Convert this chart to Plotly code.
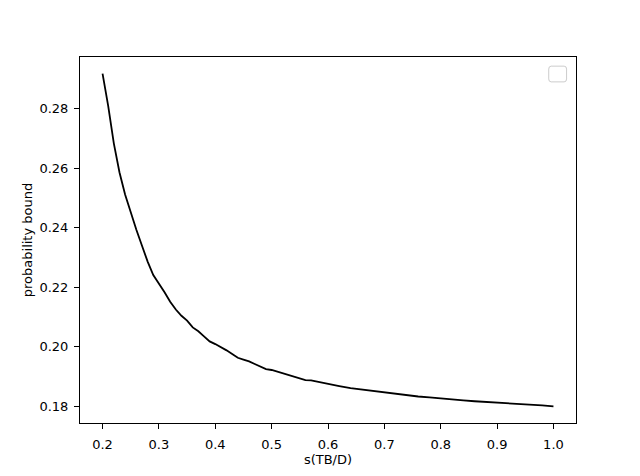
import plotly.graph_objects as go

# s(TB/D) values and the probability bound
s_vals = [0.20, 0.21, 0.22, 0.23, 0.24, 0.25, 0.26, 0.27, 0.28, 0.29,
          0.30, 0.31, 0.32, 0.33, 0.34, 0.35, 0.36, 0.37, 0.38, 0.39,
          0.40, 0.41, 0.42, 0.43, 0.44, 0.45, 0.46, 0.47, 0.48, 0.49,
          0.50, 0.51, 0.52, 0.53, 0.54, 0.55, 0.56, 0.57, 0.58, 0.59,
          0.60, 0.62, 0.64, 0.66, 0.68, 0.70, 0.72, 0.74, 0.76, 0.78,
          0.80, 0.82, 0.84, 0.86, 0.88, 0.90, 0.92, 0.94, 0.96, 0.98, 1.00]
bound = [0.2917, 0.2809, 0.2683, 0.2586, 0.2511, 0.2448, 0.2393, 0.2339, 0.2286, 0.2241,
         0.2213, 0.2183, 0.2151, 0.2125, 0.2104, 0.2088, 0.2065, 0.2052, 0.2035, 0.2018,
         0.2009, 0.1999, 0.1988, 0.1976, 0.1963, 0.1957, 0.1951, 0.1942, 0.1933, 0.1925,
         0.1922, 0.1916, 0.1910, 0.1906, 0.1899, 0.1893, 0.1888, 0.1887, 0.1883, 0.1879,
         0.1874, 0.1868, 0.1861, 0.1856, 0.1851, 0.1846, 0.1841, 0.1836, 0.1833, 0.1830,
         0.1826, 0.1823, 0.1820, 0.1817, 0.1815, 0.1811, 0.1809, 0.1807, 0.1805, 0.1803, 0.1800]

x_ticks = [0.2, 0.3, 0.4, 0.5, 0.6, 0.7, 0.8, 0.9, 1.0]
y_ticks = [0.18, 0.20, 0.22, 0.24, 0.26, 0.28]

fig = go.Figure(go.Scatter(
    x=s_vals, y=bound, mode="lines",
    line=dict(color="black", width=1.8),
    showlegend=False,
))

axis_style = dict(
    showline=True, linecolor="black", linewidth=1, mirror=True,
    ticks="outside", ticklen=5, tickcolor="black", tickwidth=1,
    showgrid=False, zeroline=False,
    tickfont=dict(size=13, color="black"),
)

fig.update_xaxes(range=[0.16, 1.04], tickvals=x_ticks,
                 ticktext=[f"{v:.1f}" for v in x_ticks],
                 ticklabelstandoff=4, automargin=False,
                 title=dict(text="s(TB/D)", font=dict(size=13, color="black"), standoff=4),
                 **axis_style)
fig.update_yaxes(range=[0.1744, 0.2973], tickvals=y_ticks,
                 ticktext=[f"{v:.2f}" for v in y_ticks],
                 ticklabelstandoff=3, automargin=True,
                 title=dict(text="probability bound", font=dict(size=13, color="black"), standoff=3),
                 **axis_style)

# empty legend frame, as in the reference
fig.add_shape(
    type="path", xref="paper", yref="paper",
    path="M 0.950 0.975 L 0.976 0.975 Q 0.981 0.975 0.981 0.967 L 0.981 0.940 "
         "Q 0.981 0.932 0.976 0.932 L 0.950 0.932 Q 0.945 0.932 0.945 0.940 "
         "L 0.945 0.967 Q 0.945 0.975 0.950 0.975 Z",
    line=dict(color="#cccccc", width=1), fillcolor="white",
)

# page body has an 8px margin, so the figure is sized to sit inside the window
fig.update_layout(
    width=632, height=468,
    margin=dict(l=72, r=64, t=49, b=53),
    paper_bgcolor="white", plot_bgcolor="white",
    font=dict(family="DejaVu Sans", size=13, color="black"),
)

fig.write_html("out.html")
